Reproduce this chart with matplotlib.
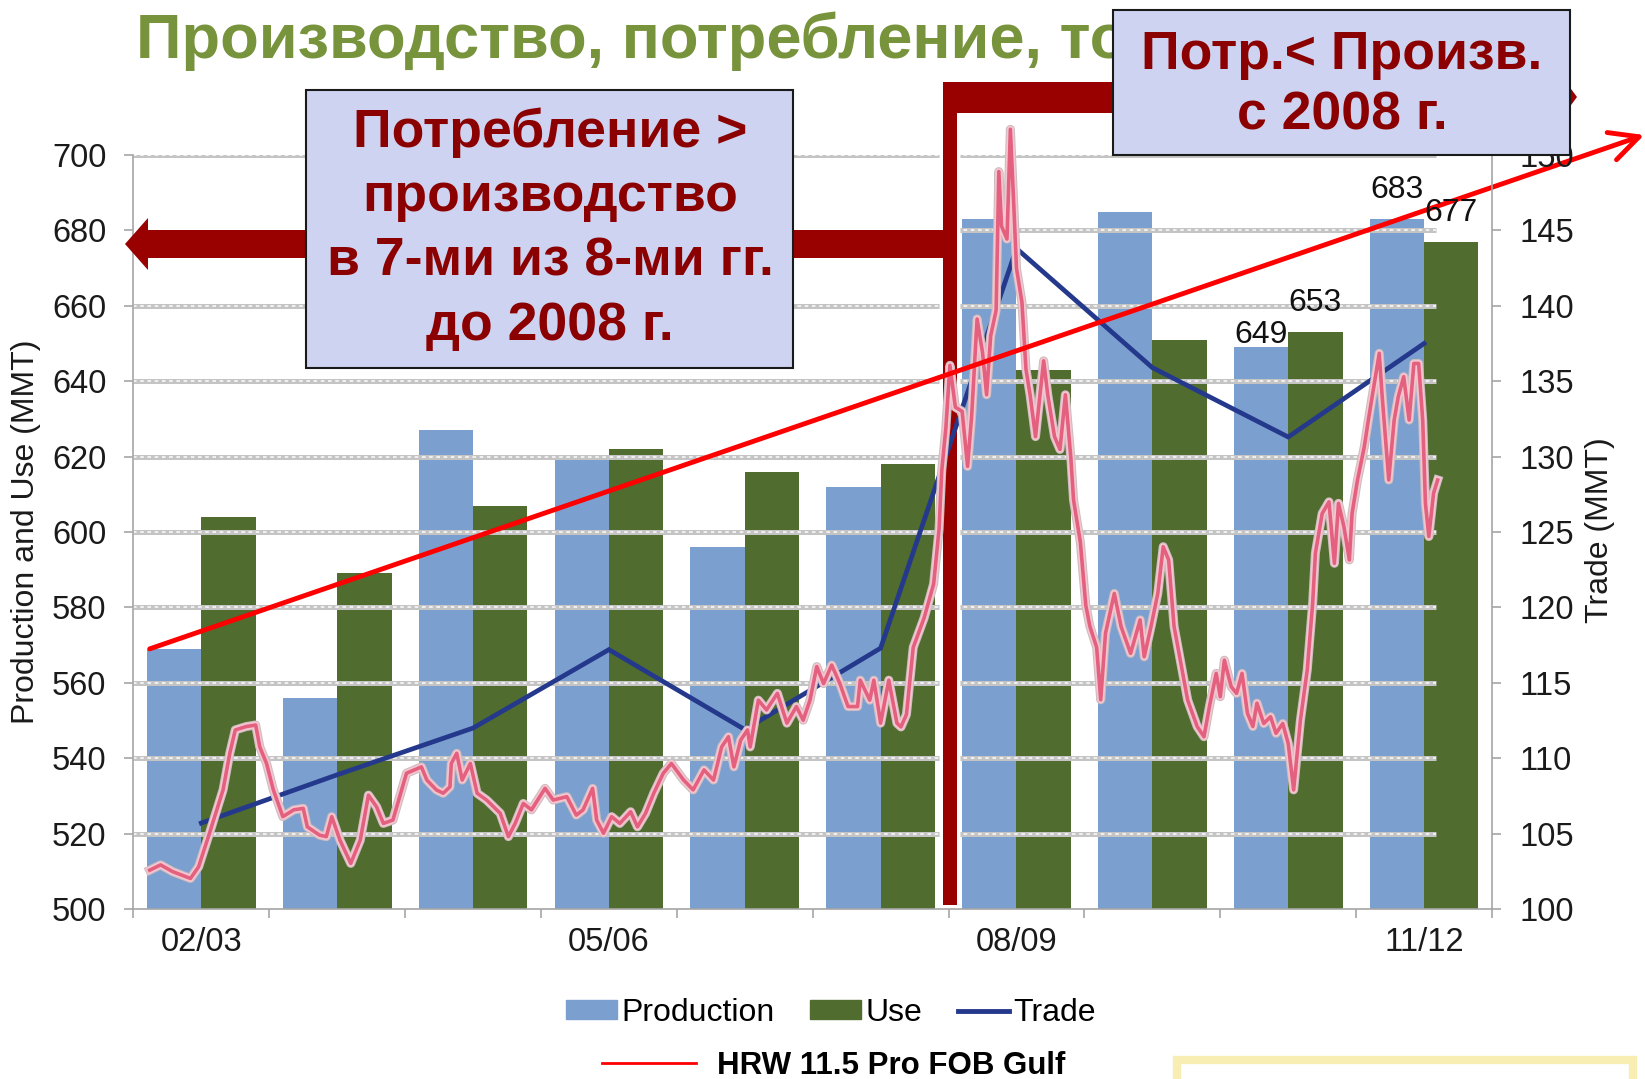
"""
Wheat: production, use and trade 2002/03-2011/12 with HRW price overlay
"""

import numpy as np
import matplotlib
matplotlib.use("Agg")
import matplotlib.pyplot as plt
import matplotlib.patheffects as pe
from matplotlib.patches import Polygon, Rectangle, Patch
from matplotlib.lines import Line2D

# ── Data ──────────────────────────────────────────────────────────────────────
seasons    = ["02/03", "03/04", "04/05", "05/06", "06/07",
              "07/08", "08/09", "09/10", "10/11", "11/12"]
production = [569, 556, 627, 619, 596, 612, 683, 685, 649, 683]   # MMT
use        = [604, 589, 607, 622, 616, 618, 643, 651, 653, 677]   # MMT
trade      = [105.7, 108.9, 112.0, 117.2, 111.9, 117.3, 143.8, 135.9, 131.3, 137.5]

# seasons whose bars carry a value label
labeled_prod = ["10/11", "11/12"]
labeled_use  = ["10/11", "11/12"]

# HRW 11.5 Pro FOB Gulf in production-axis units
# (x = position along the season axis, 0 = centre of 02/03)
hrw_x = [-0.38, -0.30, -0.21, -0.08, -0.02, 0.06, 0.16, 0.21, 0.25, 0.33, 0.40, 0.43,
         0.48, 0.53, 0.60, 0.68, 0.75, 0.78, 0.87, 0.92, 0.96, 1.02, 1.10, 1.17,
         1.23, 1.29, 1.34, 1.41, 1.46, 1.51, 1.62, 1.66, 1.73, 1.78, 1.83, 1.84,
         1.88, 1.92, 1.98, 2.03, 2.10, 2.20, 2.26, 2.31, 2.37, 2.43, 2.53, 2.59,
         2.69, 2.76, 2.81, 2.88, 2.91, 2.96, 3.02, 3.08, 3.16, 3.21, 3.27, 3.33,
         3.40, 3.46, 3.55, 3.62, 3.70, 3.77, 3.83, 3.88, 3.92, 3.97, 4.02, 4.04,
         4.10, 4.16, 4.24, 4.31, 4.38, 4.43, 4.48, 4.53, 4.58, 4.64, 4.70, 4.76,
         4.83, 4.85, 4.92, 4.95, 5.00, 5.06, 5.12, 5.15, 5.19, 5.24, 5.32, 5.39,
         5.43, 5.45, 5.48, 5.51, 5.55, 5.60, 5.64, 5.67, 5.71, 5.75, 5.78, 5.81,
         5.85, 5.87, 5.89, 5.93, 5.955, 5.98, 6.00, 6.04, 6.07, 6.10, 6.14, 6.18,
         6.20, 6.23, 6.28, 6.32, 6.36, 6.40, 6.42, 6.47, 6.51, 6.54, 6.59, 6.62,
         6.655, 6.72, 6.77, 6.84, 6.91, 6.94, 6.99, 7.04, 7.08, 7.12, 7.16, 7.21,
         7.26, 7.33, 7.38, 7.42, 7.47, 7.50, 7.53, 7.58, 7.62, 7.66, 7.70, 7.74,
         7.77, 7.82, 7.87, 7.91, 7.96, 8.00, 8.04, 8.09, 8.14, 8.18, 8.20, 8.25,
         8.30, 8.34, 8.37, 8.41, 8.45, 8.47, 8.51, 8.56, 8.59, 8.63, 8.67, 8.69,
         8.74, 8.78, 8.81, 8.85, 8.89, 8.925, 8.96, 8.99, 9.01, 9.035, 9.07, 9.10]
hrw_y = [510.3, 511.7, 509.9, 508.1, 511.2, 520.1, 531.6, 541.4, 547.5, 548.4, 548.8, 543.0,
         538.6, 531.6, 524.5, 526.3, 526.7, 521.8, 519.6, 519.2, 524.5, 518.3, 512.1, 518.3,
         530.2, 527.1, 522.7, 523.6, 529.8, 536.0, 537.7, 534.2, 531.6, 530.7, 532.4, 538.6,
         541.3, 534.2, 538.6, 530.7, 528.9, 525.4, 519.2, 522.7, 528.0, 526.3, 532.0, 528.9,
         529.8, 524.9, 526.3, 532.0, 523.6, 520.1, 524.5, 522.7, 525.8, 521.8, 525.4, 530.7,
         536.0, 538.6, 534.2, 531.6, 536.9, 534.2, 543.0, 545.7, 537.7, 544.8, 547.5, 543.0,
         555.4, 552.8, 557.2, 549.3, 553.7, 550.1, 555.4, 564.3, 559.8, 564.7, 559.8, 553.7,
         553.7, 560.7, 555.4, 560.7, 549.3, 560.7, 549.3, 548.3, 551.6, 569.4, 577.2, 586.2,
         600.7, 616.3, 627.5, 644.2, 633.1, 632.0, 617.4, 630.8, 656.5, 647.6, 636.4, 652.0,
         658.8, 695.6, 681.1, 677.7, 706.8, 686.7, 669.9, 661.0, 643.1, 636.4, 625.3, 638.7,
         645.4, 636.4, 625.3, 621.9, 636.4, 619.7, 608.5, 597.3, 580.6, 575.0, 569.4, 555.5,
         573.1, 583.7, 574.9, 567.8, 576.7, 566.9, 574.9, 583.7, 596.1, 592.6, 574.9, 565.1,
         555.4, 548.4, 545.7, 553.7, 562.5, 556.3, 566.0, 559.0, 557.2, 562.5, 551.9, 548.4,
         554.6, 549.2, 551.0, 546.6, 549.2, 543.9, 531.6, 550.1, 563.4, 581.1, 594.4, 604.9,
         608.0, 591.7, 607.6, 601.4, 592.6, 604.9, 613.8, 622.6, 629.7, 638.5, 647.4, 636.8,
         613.8, 629.7, 635.9, 641.2, 629.7, 644.7, 644.7, 629.7, 607.6, 598.8, 610.3, 613.8]

# straight price trend (start / end, production-axis units)
trend_x = [-0.38, 10.62]
trend_y = [569.0, 705.3]

# ── Style ─────────────────────────────────────────────────────────────────────
plt.rcParams.update({
    "font.family": ["Liberation Sans", "DejaVu Sans"],
    "font.size":   23,
    "axes.edgecolor": "#a6a6a6",
    "xtick.color": "#a6a6a6",
    "ytick.color": "#a6a6a6",
    "xtick.labelcolor": "#1a1a1a",
    "ytick.labelcolor": "#1a1a1a",
})

C_PROD  = "#7ba0d0"
C_USE   = "#506c2e"
C_TRADE = "#25398c"
C_RED   = "#ff0000"
C_DARK  = "#990000"
C_TEXT  = "#8b0000"
C_BOX   = "#cdd3f0"
C_TITLE = "#77933c"

W, H = 1645, 1079


def px(x, y):
    """pixel position (from top-left) -> figure fraction"""
    return x / W, 1 - y / H


fig = plt.figure(figsize=(W / 100, H / 100), dpi=100, facecolor="white")
ax = fig.add_axes([133.4 / W, 1 - 909 / H, (1492 - 133.4) / W, (909 - 155) / H])
ax2 = ax.twinx()

x = np.arange(len(seasons))

# ── Bars ──────────────────────────────────────────────────────────────────────
ax.bar(x - 0.2, production, width=0.4, color=C_PROD, zorder=1)
ax.bar(x + 0.2, use, width=0.4, color=C_USE, zorder=1)

ax.set_xlim(-0.5, 9.5)
ax.set_ylim(500, 700)
ax2.set_ylim(100, 150)

# grid lines (textured grey bands)
grid_y = np.arange(520, 701, 20)
ax.hlines(grid_y, -0.5, 9.09, color="#c4c4c4", lw=3.6, zorder=2)
ax.hlines(grid_y, -0.5, 9.09, color="#f4f4f4", lw=1.3, linestyles=(0, (2, 2)), zorder=2)

# ── Big dark red arrows (annotation) ─────────────────────────────────────────
arrow_px = [(125, 244), (148, 218), (148, 230), (943, 230), (943, 82),
            (1560, 82), (1560, 74), (1577, 97), (1560, 120), (1560, 113),
            (957, 113), (957, 905), (943, 905), (943, 258), (148, 258), (148, 270)]
arrow_pts = [px(a, b) for a, b in arrow_px]
halo = Polygon(arrow_pts, closed=True, facecolor="white", edgecolor="white", lw=5,
               transform=fig.transFigure, clip_on=False, zorder=2.5)
body = Polygon(arrow_pts, closed=True, facecolor=C_DARK, edgecolor="none",
               transform=fig.transFigure, clip_on=False, zorder=2.6)
ax.add_artist(halo)
ax.add_artist(body)

# ── Lines ─────────────────────────────────────────────────────────────────────
ax.plot(x, trade, color=C_TRADE, lw=3.4, transform=ax2.transData, zorder=3,
        solid_joinstyle="miter")

ax.plot(hrw_x, hrw_y, color="#e4607f", lw=2.6, zorder=4, clip_on=False,
        solid_joinstyle="round",
        path_effects=[pe.Stroke(linewidth=6.5, foreground="#cdbcc0"),
                      pe.Stroke(linewidth=5.0, foreground="#f5c6d0"),
                      pe.Normal()])

ax.annotate("", xy=(trend_x[1], trend_y[1]), xytext=(trend_x[0], trend_y[0]),
            annotation_clip=False, zorder=5,
            arrowprops=dict(arrowstyle="->,head_length=0.9,head_width=0.45",
                            color=C_RED, lw=3.5, shrinkA=0, shrinkB=0))

# value labels
for s in labeled_prod:
    i = seasons.index(s)
    off = -3 if s == "10/11" else 14
    ax.annotate(f"{production[i]}", (i - 0.2, production[i]), xytext=(0, off),
                textcoords="offset pixels", ha="center", va="bottom",
                fontsize=23, color="#111111", zorder=6)
for s in labeled_use:
    i = seasons.index(s)
    ax.annotate(f"{use[i]}", (i + 0.2, use[i]), xytext=(0, 14),
                textcoords="offset pixels", ha="center", va="bottom",
                fontsize=23, color="#111111", zorder=6)

# ── Axes cosmetics ────────────────────────────────────────────────────────────
ax.set_yticks(np.arange(500, 701, 20))
ax.set_xticks(np.arange(-0.5, 10, 1))
ax.set_xticklabels([])
ax.set_xticks([0, 3, 6, 9], minor=True)
ax.set_xticklabels([seasons[i] for i in [0, 3, 6, 9]], minor=True)
ax.tick_params(axis="x", which="major", length=6.5, width=1.2, direction="out")
ax.tick_params(axis="x", which="minor", length=0, pad=13, labelsize=23.5)
ax.tick_params(axis="y", length=6.5, width=1.2, pad=13, labelsize=23.5)

ax2.set_yticks(np.arange(100, 151, 5))
ax2.tick_params(axis="y", length=6.5, width=1.2, pad=13, labelsize=23.5)

for a in (ax, ax2):
    a.spines["top"].set_visible(False)
    a.spines["left"].set_linewidth(1.2)
    a.spines["bottom"].set_linewidth(1.2)
    a.spines["right"].set_linewidth(1.2)
ax.spines["right"].set_visible(False)
ax2.spines["left"].set_visible(False)
ax2.spines["bottom"].set_visible(False)
ax.patch.set_visible(False)

fig.text(*px(26, 532), "Production and Use (MMT)", rotation=90, ha="center", va="center",
         fontsize=23, color="#1a1a1a")
fig.text(*px(1600, 530), "Trade (MMT)", rotation=90, ha="center", va="center",
         fontsize=23, color="#1a1a1a")

# ── Title and call-out boxes ─────────────────────────────────────────────────
fig.text(*px(136, 58), "Производство, потребление, торговля", ha="left", va="baseline",
         fontsize=45.5, fontweight="bold", color=C_TITLE, zorder=3)

fig.add_artist(Rectangle(px(306, 368), (793 - 306) / W, (368 - 90) / H,
                         facecolor=C_BOX, edgecolor="#1a1a1a", lw=1.5,
                         transform=fig.transFigure, zorder=5))
for line, yy in zip(["Потребление >", "производство", "в 7-ми из 8-ми гг.", "до 2008 г."],
                    [133, 197, 261, 326]):
    fig.text(*px(550, yy), line, ha="center", va="center", fontsize=38.5,
             fontweight="bold", color=C_TEXT, zorder=6)

fig.add_artist(Rectangle(px(1113, 155), (1570 - 1113) / W, (155 - 10) / H,
                         facecolor=C_BOX, edgecolor="#1a1a1a", lw=1.5,
                         transform=fig.transFigure, zorder=5))
for line, yy in zip(["Потр.< Произв.", "с 2008 г."], [55, 115]):
    fig.text(*px(1342, yy), line, ha="center", va="center", fontsize=38.5,
             fontweight="bold", color=C_TEXT, zorder=6)

# partial yellow frame bottom right
fig.add_artist(Rectangle(px(1177, 1110), (1633 - 1177) / W, 50 / H,
                         facecolor="white", edgecolor="#f8eeb4", lw=6,
                         transform=fig.transFigure, zorder=1, clip_on=True))

# ── Legends ───────────────────────────────────────────────────────────────────
h1 = [Patch(color=C_PROD), Patch(color=C_USE), Line2D([], [], color=C_TRADE, lw=3.5)]
fig.legend(h1, ["Production", "Use", "Trade"], loc="center", ncol=3,
           bbox_to_anchor=px(831, 1013), frameon=False, fontsize=23,
           handlelength=1.6, handleheight=0.55, handletextpad=0.15, columnspacing=1.1)

h2 = [Line2D([], [], color=C_RED, lw=2)]
fig.legend(h2, ["HRW 11.5 Pro FOB Gulf"], loc="center", bbox_to_anchor=px(834, 1066),
           frameon=False, prop={"size": 22.5, "weight": "bold"},
           handlelength=3.0, handletextpad=0.67)

fig.savefig("out.png", dpi=100, facecolor="white")
